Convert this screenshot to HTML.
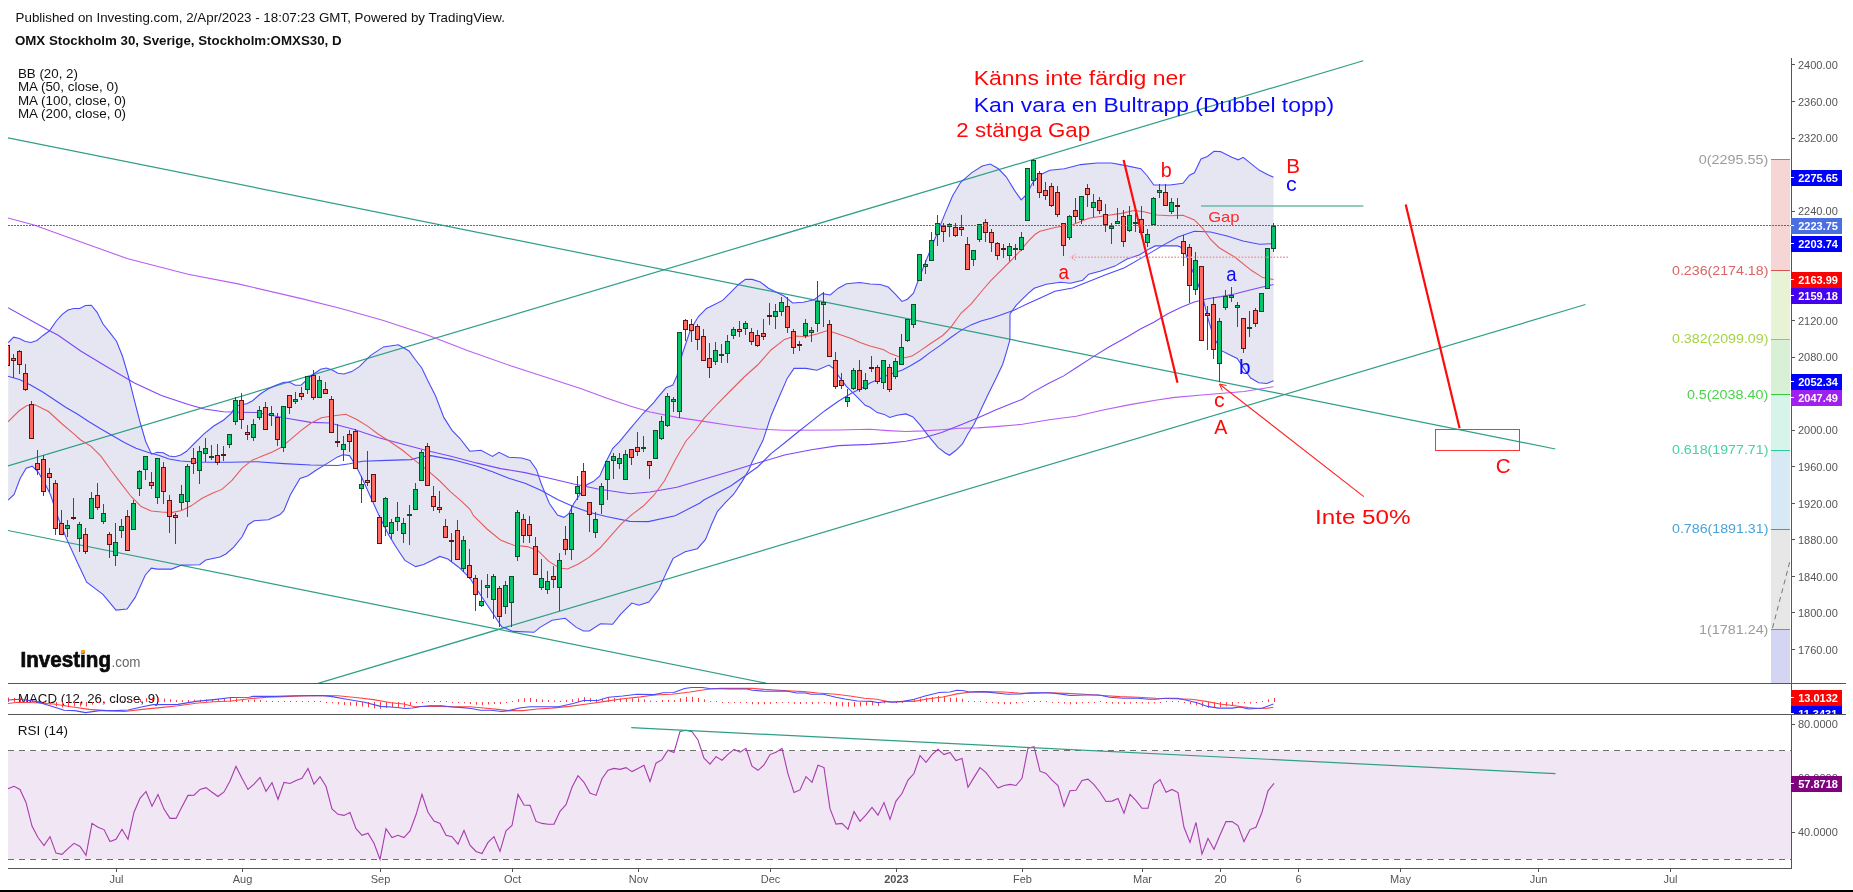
<!DOCTYPE html><html><head><meta charset="utf-8"><title>OMXS30</title>
<style>html,body{margin:0;padding:0;background:#fff;}body{width:1853px;height:892px;overflow:hidden;position:relative;font-family:"Liberation Sans",sans-serif;}svg{position:absolute;left:0;top:0;display:block}text{font-family:"Liberation Sans",sans-serif;}</style></head><body>
<div style="position:absolute;left:0;top:0;width:1853px;height:892px;will-change:transform;background:#fff">
<svg width="1853" height="892" viewBox="0 0 1853 892">
<rect x="0" y="0" width="1853" height="892" fill="#fff"/>
<defs><clipPath id="mp"><rect x="8" y="55" width="1783" height="628"/></clipPath><clipPath id="mc"><rect x="8" y="684" width="1783" height="30"/></clipPath></defs>
<rect x="8" y="751" width="1783" height="108" fill="#f1e6f4"/>
<g clip-path="url(#mp)">
<polygon points="8.2,342.5 13.6,337.2 19.4,338.6 25.3,341.5 31,342.5 37,340.5 42.7,335.7 49.5,330.8 56.3,321 62.2,314.3 68,310 73.8,308.5 79.7,308.5 85.5,305.5 91.3,305.2 97.1,312.3 103,324 110.7,333.7 116.6,341.5 122.4,356 128.2,375.5 134,398.8 140,422 145.7,441.5 151.5,454.2 157.4,452.2 163.2,452.8 169,456 174.9,456.7 180.7,455 186.5,451.3 194.3,443.5 204,433.8 213.7,426 223.4,420.2 231.2,413.4 235,406.6 241,404.6 246.8,403.7 252.6,400.7 260.3,394 268,389 276,385.2 283.7,382.3 289.5,382.3 295.3,385.2 301.2,385.2 307,379.4 312.8,374.5 320.6,369.3 326.4,368 332.2,370 338,373.2 343.9,374 351.7,371.6 359.4,366.7 370.7,355.4 383.5,346.9 398.4,344.7 409,351 415.6,360 421.8,368 427.5,380 435.6,396 443.8,417.4 452,430.4 460,438.5 469.8,451.2 481,450.2 492.5,456.4 499,452.3 508.8,457.2 521.8,458 530,460.4 536.4,469.4 541.3,484 549.4,503.5 557.5,515 564,517.3 569,513.3 573.8,503.5 580.3,493.8 586.8,484.8 593.3,481.6 599.8,475.9 606.3,461.3 612.8,448.3 619.3,441.8 630,428.8 643,413.5 653.7,402.7 658,397.2 666,387.8 672.9,385 677,375.7 682.3,354 690.4,330 698.4,316.5 706.5,308.4 714.6,304.4 722.6,300.4 730.7,292.3 738.8,284.2 745.5,279.4 752.2,279.4 760.3,282 768.4,288.2 776.4,292.3 784.5,296.3 792.6,303 803.4,302.2 814,299.8 822.2,293.6 830.2,295 838.3,288.2 846.4,283.7 860,282.5 870,284 880.2,284.5 888.2,287 895.3,294.1 901.9,301.4 907.4,299.2 913.5,293.1 916.5,285 923,268.4 933.8,241.5 944.6,214.6 952.6,195.7 960.7,182.3 971.5,172.9 982.2,166 990.3,164 998.4,168.8 1006.4,177 1014.5,190.4 1021.2,199.8 1026.6,194.4 1033,182 1041.4,174.2 1049.8,170.3 1064.4,168.7 1080.6,164.6 1096.9,163 1111.5,163 1124.5,165.4 1140.8,168.7 1147.3,176 1153.8,185 1170,185 1183,183.3 1189.5,175.2 1194.4,172.8 1201,159 1207.4,156.5 1214,151.3 1220.4,151.6 1231.8,157.3 1238.3,159.8 1243.2,157.3 1251.3,163.8 1259.4,170.3 1267.5,174.4 1273.5,177.3 1273.5,380.8 1266.8,383.5 1258.7,382.7 1250.7,378 1245.3,370.6 1237.2,358.5 1229,354.5 1221,350.4 1213,335.6 1207.6,316.8 1203.6,300.7 1198.2,284.5 1191.5,268.4 1186,255 1180.5,246.9 1177.4,245.9 1155.2,245.9 1149.2,248.9 1139.1,255 1127,259 1114.9,266.1 1100.8,271.1 1088.7,274.2 1082.6,280.2 1070.5,283.2 1060.4,282.2 1046.3,284.2 1034.2,288.3 1028.2,293.3 1022.1,299.4 1016.1,305.4 1010,313.9 1009.9,340 1006.3,352.6 1002.7,364.2 995.5,379.5 988.4,393.8 981.2,409 974,424.3 967.7,434.2 962.4,444 956,450.3 949.4,455.3 945.3,453 938.2,447.6 929.2,436.8 920.2,425.2 913,417 905.9,413.9 896.9,415.3 889.7,417.5 884.3,414.4 877.2,412.6 870,407.3 865.2,405.3 857.2,397.2 846.4,386.4 838.3,375.7 834.3,369 829,365 816.8,370.3 806,368.4 794,368.4 787.2,378.4 779,397.2 771,416 763,440.3 752.2,461.8 748.8,470 741.7,482.1 733.7,494.2 725.6,502.3 717.5,511.4 711.5,524.5 705.4,539.6 697.4,548.7 685.2,551.7 673.1,558.4 667.1,570.9 659,589 648.9,602.1 638.9,605.2 631.8,603.1 620.7,614.2 612.6,624.3 600.5,623.7 589.4,631 583.4,631 576.3,627.4 565.2,618.3 552.1,620.3 540,627.4 534,632.3 513,631.4 501.7,626.7 492.3,612.5 476,588.3 470,578 458.7,567.2 447.9,559 439.8,556.4 431.8,560.4 423.7,564.5 415.6,566.6 404.9,560.4 396.8,548.3 388.7,534.9 378.8,515 370.6,497 362.5,479 356,466 349.5,455.6 343,454.8 337.6,456.9 326.9,463.6 316,470.3 308,475.7 300,478.4 290.5,494.5 283.8,510.7 280,514.6 268.3,519.7 254.2,520.7 248.1,524.7 242.1,536.8 234,546.9 225.9,554 219.9,557 205.8,560 199.7,564.7 181.6,565.1 171.5,569.1 157.4,569.1 151.3,568.1 145.2,575.2 135.2,597.4 127.1,609.1 116,610.1 102.9,594.3 86.7,582.2 76.7,561 66.6,538.9 58.5,518.7 50.4,494.5 44.4,482.4 38.3,472.3 32.3,466.2 26.2,468.2 20.2,478.3 14.1,494.5 8.1,500.1" fill="#e6e6f3" stroke="none"/>
<g stroke="#2f9e86" stroke-width="1.2" fill="none">
<line x1="8" y1="137.8" x2="1555.3" y2="449"/>
<line x1="8" y1="466" x2="1363.2" y2="60.7"/>
<line x1="318" y1="683.4" x2="1585.4" y2="304.5"/>
<line x1="8" y1="530.5" x2="766" y2="683.2"/>
</g>
<line x1="1201" y1="206" x2="1363.3" y2="206" stroke="#6db8a5" stroke-width="1.6"/>
<polyline points="8,218 34,225 74.8,239.7 127,258.5 188,274.3 238,283.9 301.5,298.6 340.9,308.5 383.5,320.5 426,334.5 468.7,351 511.3,366 556,380.5 582,389 606.3,397.9 630,406 650,412 677,417.4 703.8,421.4 730.7,425.5 757.6,429 784.5,430.3 838.3,430 870,429.3 888,430.6 905.9,431.5 923.8,430.9 941.7,429.7 959.7,428.2 977.6,427.9 995.5,426.6 1022.4,424.3 1049.3,419.8 1076.2,416.2 1103.1,410 1130,404.6 1157,400 1174.9,397.4 1202,395 1244,391.5 1273.5,386.7" fill="none" stroke="#b85cf5" stroke-width="1.08"/>
<polyline points="8,307.7 50,331 57.8,335 80.7,351 107.6,367.3 134.5,382.9 161.4,395.5 188.3,404.4 204.5,409 223.3,411.7 240,412.2 257,412.5 283.8,417.8 310.7,422.4 330,423 354.4,429.6 378.8,437.7 403,444.2 427.5,450.7 452,456.4 476.3,462.9 500.7,468.6 525,472.6 549.4,478.3 573.8,484 598,489 630,493.8 650,492 677,487.3 703.8,479.3 730.7,471.2 757.6,463 784.5,455 811.4,449.7 838.3,445.6 870,444.4 888,443.1 905.9,441.3 923.8,437.7 941.7,432.4 959.7,425.2 977.6,418 995.5,410 1013.5,402.8 1022.4,399.2 1031.4,392.9 1049.3,383 1063.7,375.9 1076.2,367.8 1094.2,356.1 1108.5,347.2 1127,337 1140.4,329 1153.8,322.2 1167.3,314 1180.7,307.4 1194.2,302 1207.6,298.8 1221,296.6 1234.5,294 1248,290.4 1261.4,287.2 1273.5,284.5" fill="none" stroke="#7c46fa" stroke-width="1.08"/>
<polyline points="8,376.3 19.4,379.4 31,385.2 42.7,392 54.4,399.8 66,407.5 77.7,414.3 89.4,422 101,429 112.7,435.7 124.3,442.5 136,448.3 147.7,452.2 159.3,455.5 169,459 180.7,461 194.3,462 209.8,462.3 230,462.2 257,461.7 283.8,463.6 310.7,465 337.6,465.5 349.5,463.7 362.5,461.3 387,460.4 411,459.6 419.4,457.2 430.8,455.6 452,459.6 476.3,466 492.5,471.8 508.8,478.3 525,483.2 541.3,490.5 557.5,499.5 573.8,506.8 590,512.5 606.3,516.5 630,521.4 648.3,521.6 675.2,515.7 700,503 703.8,500 730.7,486 757.6,467 771,453.7 784.5,443 798,432 811.4,421.4 824.9,410.7 838.3,401.2 851.8,393 865.2,386.4 870,383 888,375 902.4,370 910.4,365.7 920.5,359.7 930.6,352.1 940.7,345.1 950.8,337.5 960.9,330.4 971,324.9 981,320.9 991.1,318.3 1000,315.3 1014.5,310 1028,303.4 1041.4,297.4 1054.9,291.2 1072.5,288 1105,275 1124.5,267.8 1145.6,255.6 1162,245.9 1178,237 1194.4,231.3 1210.6,232 1227,236 1243,241 1259.4,244.3 1273.5,243.6" fill="none" stroke="#4a4afc" stroke-width="1.08"/>
<polyline points="8.2,342.5 13.6,337.2 19.4,338.6 25.3,341.5 31,342.5 37,340.5 42.7,335.7 49.5,330.8 56.3,321 62.2,314.3 68,310 73.8,308.5 79.7,308.5 85.5,305.5 91.3,305.2 97.1,312.3 103,324 110.7,333.7 116.6,341.5 122.4,356 128.2,375.5 134,398.8 140,422 145.7,441.5 151.5,454.2 157.4,452.2 163.2,452.8 169,456 174.9,456.7 180.7,455 186.5,451.3 194.3,443.5 204,433.8 213.7,426 223.4,420.2 231.2,413.4 235,406.6 241,404.6 246.8,403.7 252.6,400.7 260.3,394 268,389 276,385.2 283.7,382.3 289.5,382.3 295.3,385.2 301.2,385.2 307,379.4 312.8,374.5 320.6,369.3 326.4,368 332.2,370 338,373.2 343.9,374 351.7,371.6 359.4,366.7 370.7,355.4 383.5,346.9 398.4,344.7 409,351 415.6,360 421.8,368 427.5,380 435.6,396 443.8,417.4 452,430.4 460,438.5 469.8,451.2 481,450.2 492.5,456.4 499,452.3 508.8,457.2 521.8,458 530,460.4 536.4,469.4 541.3,484 549.4,503.5 557.5,515 564,517.3 569,513.3 573.8,503.5 580.3,493.8 586.8,484.8 593.3,481.6 599.8,475.9 606.3,461.3 612.8,448.3 619.3,441.8 630,428.8 643,413.5 653.7,402.7 658,397.2 666,387.8 672.9,385 677,375.7 682.3,354 690.4,330 698.4,316.5 706.5,308.4 714.6,304.4 722.6,300.4 730.7,292.3 738.8,284.2 745.5,279.4 752.2,279.4 760.3,282 768.4,288.2 776.4,292.3 784.5,296.3 792.6,303 803.4,302.2 814,299.8 822.2,293.6 830.2,295 838.3,288.2 846.4,283.7 860,282.5 870,284 880.2,284.5 888.2,287 895.3,294.1 901.9,301.4 907.4,299.2 913.5,293.1 916.5,285 923,268.4 933.8,241.5 944.6,214.6 952.6,195.7 960.7,182.3 971.5,172.9 982.2,166 990.3,164 998.4,168.8 1006.4,177 1014.5,190.4 1021.2,199.8 1026.6,194.4 1033,182 1041.4,174.2 1049.8,170.3 1064.4,168.7 1080.6,164.6 1096.9,163 1111.5,163 1124.5,165.4 1140.8,168.7 1147.3,176 1153.8,185 1170,185 1183,183.3 1189.5,175.2 1194.4,172.8 1201,159 1207.4,156.5 1214,151.3 1220.4,151.6 1231.8,157.3 1238.3,159.8 1243.2,157.3 1251.3,163.8 1259.4,170.3 1267.5,174.4 1273.5,177.3" fill="none" stroke="#4a4afc" stroke-width="1.08"/>
<polyline points="8.1,500.1 14.1,494.5 20.2,478.3 26.2,468.2 32.3,466.2 38.3,472.3 44.4,482.4 50.4,494.5 58.5,518.7 66.6,538.9 76.7,561 86.7,582.2 102.9,594.3 116,610.1 127.1,609.1 135.2,597.4 145.2,575.2 151.3,568.1 157.4,569.1 171.5,569.1 181.6,565.1 199.7,564.7 205.8,560 219.9,557 225.9,554 234,546.9 242.1,536.8 248.1,524.7 254.2,520.7 268.3,519.7 280,514.6 283.8,510.7 290.5,494.5 300,478.4 308,475.7 316,470.3 326.9,463.6 337.6,456.9 343,454.8 349.5,455.6 356,466 362.5,479 370.6,497 378.8,515 388.7,534.9 396.8,548.3 404.9,560.4 415.6,566.6 423.7,564.5 431.8,560.4 439.8,556.4 447.9,559 458.7,567.2 470,578 476,588.3 492.3,612.5 501.7,626.7 513,631.4 534,632.3 540,627.4 552.1,620.3 565.2,618.3 576.3,627.4 583.4,631 589.4,631 600.5,623.7 612.6,624.3 620.7,614.2 631.8,603.1 638.9,605.2 648.9,602.1 659,589 667.1,570.9 673.1,558.4 685.2,551.7 697.4,548.7 705.4,539.6 711.5,524.5 717.5,511.4 725.6,502.3 733.7,494.2 741.7,482.1 748.8,470 752.2,461.8 763,440.3 771,416 779,397.2 787.2,378.4 794,368.4 806,368.4 816.8,370.3 829,365 834.3,369 838.3,375.7 846.4,386.4 857.2,397.2 865.2,405.3 870,407.3 877.2,412.6 884.3,414.4 889.7,417.5 896.9,415.3 905.9,413.9 913,417 920.2,425.2 929.2,436.8 938.2,447.6 945.3,453 949.4,455.3 956,450.3 962.4,444 967.7,434.2 974,424.3 981.2,409 988.4,393.8 995.5,379.5 1002.7,364.2 1006.3,352.6 1009.9,340 1010,313.9 1016.1,305.4 1022.1,299.4 1028.2,293.3 1034.2,288.3 1046.3,284.2 1060.4,282.2 1070.5,283.2 1082.6,280.2 1088.7,274.2 1100.8,271.1 1114.9,266.1 1127,259 1139.1,255 1149.2,248.9 1155.2,245.9 1177.4,245.9 1180.5,246.9 1186,255 1191.5,268.4 1198.2,284.5 1203.6,300.7 1207.6,316.8 1213,335.6 1221,350.4 1229,354.5 1237.2,358.5 1245.3,370.6 1250.7,378 1258.7,382.7 1266.8,383.5 1273.5,380.8" fill="none" stroke="#4a4afc" stroke-width="1.08"/>
<polyline points="8,421.8 19.4,410.5 27,405.5 35,404.8 48.5,411.5 62.2,424 73.8,433.8 80.7,440 90.8,446.1 100.9,456.1 111,470.3 121,483.4 131.1,496.5 141.2,506.6 151.3,511 161.4,512 171.5,512.6 181.6,510.6 191.6,505.6 201.7,498.5 211.8,493.5 221.9,489.4 232,480.3 242.1,468.2 252.2,460.2 262.3,456.1 272.3,452.1 280,448.1 289.2,440.7 300,431.3 310.7,423.2 321.5,417.8 332.2,416 345.7,414.3 356.4,419.2 367.2,425.9 378,434 388.7,440.7 402.2,450 415.6,460.9 429,471.6 439.8,481 450.6,491.8 461.4,501.2 470,509.3 473.5,515.7 487,529 500.4,540 513.8,545.3 527.3,546.6 538,550.7 548.8,561.4 559.5,568 567.6,569 578.4,564 589,557.4 600,548 610.7,535.9 621.4,523.8 632.2,514.3 643,506.3 653.7,495.5 664.5,480.7 675.2,460 686,441 694,432 703.8,418.7 717.3,404 730.7,390.5 744.2,377 757.6,365 771,350 784.5,339.4 795.3,336 806,336.7 816.8,334 827.6,330.5 838.3,334 851.8,338.8 860,342.5 870,346 883.2,349.6 890.3,353.6 898.3,356.5 905.4,357.7 912.5,355.7 920.5,350.6 930.6,343.5 942.7,335.5 950.8,327.4 960.9,313.3 971,304.2 982.7,290 990.8,280.7 1000.9,270.6 1011,260.5 1021,249.9 1029,240.4 1035.2,234.3 1040,231.3 1056,227.2 1072.5,224.8 1088.8,218.3 1105,215.8 1121.3,213.4 1134.3,210.5 1144,211.8 1157,215 1170,215.8 1183,215.3 1194.4,219.9 1202.5,228 1210.6,239.4 1218.8,247.5 1235,257.3 1251.3,270.3 1262.7,277.6 1273.5,279.5" fill="none" stroke="#e85a5a" stroke-width="1.08"/>
<g shape-rendering="crispEdges">
<path d="M7.5 345V366M13.5 354V378M19.5 350V374M25.5 364V391M31.5 401V439M37.5 450V475M43.5 455V496M49.5 468V492M55.5 480V535M61.5 510V535M67.5 520V537M73.5 498V520M79.5 522V552M85.5 528V554M91.5 492V519M97.5 483V510M103.5 504V524M109.5 532V558M115.5 523V566M121.5 519V538M127.5 510V551M133.5 500V530M139.5 470V496M145.5 456V480M151.5 472V489M157.5 458V504M163.5 462V504M169.5 495V533M175.5 513V544M181.5 485V510M187.5 464V517M193.5 448V474M199.5 446V484M205.5 438V462M211.5 445V460M217.5 444V465M223.5 446V461M229.5 434V448M235.5 397V425M241.5 393V429M247.5 425V440M253.5 419V441M259.5 406V420M265.5 402V430M271.5 406V426M277.5 413V446M283.5 406V452M289.5 395V414M295.5 392V404M301.5 387V400M307.5 376V394M313.5 370V400M319.5 376V398M325.5 382V394M331.5 396V433M337.5 424V447M343.5 436V461M349.5 430V452M355.5 429V469M361.5 476V503M367.5 451V486M373.5 474V502M379.5 515V544M385.5 497V536M391.5 519V539M397.5 502V531M403.5 518V543M409.5 505V545M415.5 483V510M421.5 450V481M427.5 443V486M433.5 486V511M439.5 491V513M445.5 519V538M451.5 533V562M457.5 520V560M463.5 536V572M469.5 549V579M475.5 575V611M481.5 580V607M487.5 574V598M493.5 574V619M499.5 586V627M505.5 581V614M511.5 576V627M517.5 510V561M523.5 514V543M529.5 516V543M535.5 537V575M541.5 559V590M547.5 571V594M553.5 566V588M559.5 553V611M565.5 526V555M571.5 506V560M577.5 476V500M583.5 463V496M589.5 502V532M595.5 512V538M601.5 483V514M607.5 461V500M613.5 453V479M619.5 453V469M625.5 450V480M631.5 449V465M637.5 432V456M643.5 436V452M649.5 461V479M655.5 430V459M661.5 416V440M667.5 393V427M673.5 397V412M679.5 332V418M685.5 319V341M691.5 319V342M697.5 324V350M703.5 329V361M709.5 343V378M715.5 342V365M721.5 344V363M727.5 335V363M733.5 327V339M739.5 321V337M745.5 321V335M751.5 328V345M757.5 330V347M763.5 319V340M769.5 303V325M775.5 304V329M781.5 297V316M787.5 297V333M793.5 329V354M799.5 341V351M805.5 319V338M811.5 327V342M817.5 281V332M823.5 292V327M829.5 320V357M835.5 352V389M841.5 373V389M847.5 389V407M853.5 368V390M859.5 360V392M865.5 373V390M871.5 356V372M877.5 365V384M883.5 360V389M889.5 364V392M895.5 358V379M901.5 334V365M907.5 319V342M913.5 304V328M919.5 254V281M925.5 260V274M931.5 232V261M937.5 215V246M943.5 223V242M949.5 223V237M955.5 223V237M961.5 215V236M967.5 237V270M973.5 250V266M979.5 224V242M985.5 219V242M991.5 229V252M997.5 242V260M1003.5 244V258M1009.5 243V261M1015.5 244V260M1021.5 232V251M1027.5 168V221M1033.5 159V186M1039.5 171V198M1045.5 182V200M1051.5 183V207M1057.5 186V217M1063.5 223V256M1069.5 215V240M1075.5 198V223M1081.5 196V224M1087.5 184V207M1093.5 194V217M1099.5 197V214M1105.5 204V232M1111.5 223V244M1117.5 208V224M1123.5 210V247M1129.5 206V232M1135.5 213V232M1141.5 206V233M1147.5 229V247M1153.5 197V225M1159.5 184V198M1165.5 184V206M1171.5 198V214M1177.5 198V219M1183.5 235V266M1189.5 244V303M1195.5 252V295M1201.5 266V341M1207.5 306V350M1213.5 297V359M1219.5 318V382M1225.5 290V310M1231.5 287V302M1237.5 302V327M1243.5 318V353M1249.5 311V337M1255.5 308V327M1261.5 293V312M1267.5 248V289M1273.5 223V252" stroke="#245c3e" stroke-width="1" fill="none"/>
<g fill="#ff6b63" stroke="#5e1212" stroke-width="1"><rect x="5.5" y="345.5" width="4" height="20"/><rect x="11.5" y="358.5" width="4" height="2"/><rect x="17.5" y="351.5" width="4" height="13"/><rect x="23.5" y="373.5" width="4" height="16"/><rect x="29.5" y="404.5" width="4" height="34"/><rect x="35.5" y="463.5" width="4" height="6"/><rect x="41.5" y="459.5" width="4" height="32"/><rect x="47.5" y="473.5" width="4" height="4"/><rect x="53.5" y="483.5" width="4" height="45"/><rect x="59.5" y="523.5" width="4" height="11"/><rect x="71.5" y="517.5" width="4" height="1"/><rect x="83.5" y="534.5" width="4" height="17"/><rect x="95.5" y="495.5" width="4" height="12"/><rect x="107.5" y="534.5" width="4" height="10"/><rect x="125.5" y="516.5" width="4" height="34"/><rect x="149.5" y="482.5" width="4" height="3"/><rect x="161.5" y="467.5" width="4" height="24"/><rect x="167.5" y="500.5" width="4" height="16"/><rect x="173.5" y="515.5" width="4" height="2"/><rect x="191.5" y="458.5" width="4" height="5"/><rect x="215.5" y="455.5" width="4" height="7"/><rect x="221.5" y="454.5" width="4" height="1"/><rect x="239.5" y="400.5" width="4" height="19"/><rect x="245.5" y="432.5" width="4" height="2"/><rect x="263.5" y="407.5" width="4" height="22"/><rect x="275.5" y="417.5" width="4" height="22"/><rect x="287.5" y="395.5" width="4" height="12"/><rect x="299.5" y="393.5" width="4" height="3"/><rect x="311.5" y="375.5" width="4" height="22"/><rect x="323.5" y="389.5" width="4" height="4"/><rect x="329.5" y="399.5" width="4" height="33"/><rect x="335.5" y="441.5" width="4" height="1"/><rect x="347.5" y="434.5" width="4" height="7"/><rect x="353.5" y="431.5" width="4" height="37"/><rect x="365.5" y="480.5" width="4" height="2"/><rect x="371.5" y="474.5" width="4" height="27"/><rect x="377.5" y="517.5" width="4" height="26"/><rect x="425.5" y="446.5" width="4" height="39"/><rect x="431.5" y="496.5" width="4" height="10"/><rect x="437.5" y="507.5" width="4" height="2"/><rect x="443.5" y="526.5" width="4" height="11"/><rect x="449.5" y="540.5" width="4" height="1"/><rect x="455.5" y="530.5" width="4" height="29"/><rect x="467.5" y="565.5" width="4" height="12"/><rect x="473.5" y="578.5" width="4" height="16"/><rect x="497.5" y="588.5" width="4" height="28"/><rect x="521.5" y="519.5" width="4" height="16"/><rect x="527.5" y="524.5" width="4" height="11"/><rect x="533.5" y="546.5" width="4" height="28"/><rect x="551.5" y="576.5" width="4" height="3"/><rect x="563.5" y="539.5" width="4" height="10"/><rect x="581.5" y="471.5" width="4" height="24"/><rect x="587.5" y="502.5" width="4" height="12"/><rect x="629.5" y="449.5" width="4" height="8"/><rect x="635.5" y="447.5" width="4" height="4"/><rect x="647.5" y="461.5" width="4" height="4"/><rect x="683.5" y="320.5" width="4" height="9"/><rect x="689.5" y="324.5" width="4" height="6"/><rect x="695.5" y="326.5" width="4" height="13"/><rect x="701.5" y="336.5" width="4" height="24"/><rect x="707.5" y="358.5" width="4" height="9"/><rect x="737.5" y="329.5" width="4" height="2"/><rect x="749.5" y="332.5" width="4" height="9"/><rect x="755.5" y="335.5" width="4" height="10"/><rect x="761.5" y="333.5" width="4" height="3"/><rect x="767.5" y="315.5" width="4" height="1"/><rect x="785.5" y="306.5" width="4" height="21"/><rect x="791.5" y="331.5" width="4" height="16"/><rect x="797.5" y="344.5" width="4" height="1"/><rect x="827.5" y="324.5" width="4" height="32"/><rect x="833.5" y="360.5" width="4" height="26"/><rect x="839.5" y="380.5" width="4" height="5"/><rect x="857.5" y="370.5" width="4" height="19"/><rect x="869.5" y="367.5" width="4" height="1"/><rect x="875.5" y="367.5" width="4" height="14"/><rect x="887.5" y="367.5" width="4" height="22"/><rect x="941.5" y="226.5" width="4" height="5"/><rect x="953.5" y="227.5" width="4" height="8"/><rect x="959.5" y="227.5" width="4" height="2"/><rect x="965.5" y="244.5" width="4" height="25"/><rect x="983.5" y="222.5" width="4" height="10"/><rect x="989.5" y="232.5" width="4" height="10"/><rect x="995.5" y="243.5" width="4" height="12"/><rect x="1001.5" y="248.5" width="4" height="1"/><rect x="1037.5" y="173.5" width="4" height="19"/><rect x="1043.5" y="190.5" width="4" height="5"/><rect x="1049.5" y="186.5" width="4" height="19"/><rect x="1055.5" y="192.5" width="4" height="22"/><rect x="1061.5" y="223.5" width="4" height="22"/><rect x="1073.5" y="210.5" width="4" height="6"/><rect x="1085.5" y="188.5" width="4" height="6"/><rect x="1097.5" y="200.5" width="4" height="10"/><rect x="1103.5" y="214.5" width="4" height="10"/><rect x="1121.5" y="216.5" width="4" height="25"/><rect x="1139.5" y="219.5" width="4" height="13"/><rect x="1163.5" y="192.5" width="4" height="13"/><rect x="1175.5" y="205.5" width="4" height="1"/><rect x="1181.5" y="241.5" width="4" height="12"/><rect x="1187.5" y="247.5" width="4" height="38"/><rect x="1199.5" y="266.5" width="4" height="74"/><rect x="1205.5" y="313.5" width="4" height="2"/><rect x="1211.5" y="304.5" width="4" height="45"/><rect x="1241.5" y="318.5" width="4" height="30"/><rect x="1253.5" y="310.5" width="4" height="13"/></g>
<g fill="#05c46c" stroke="#0a4f2a" stroke-width="1"><rect x="65.5" y="525.5" width="4" height="3"/><rect x="77.5" y="524.5" width="4" height="14"/><rect x="89.5" y="498.5" width="4" height="20"/><rect x="101.5" y="513.5" width="4" height="8"/><rect x="113.5" y="542.5" width="4" height="13"/><rect x="119.5" y="526.5" width="4" height="4"/><rect x="131.5" y="503.5" width="4" height="26"/><rect x="137.5" y="471.5" width="4" height="17"/><rect x="143.5" y="456.5" width="4" height="13"/><rect x="155.5" y="458.5" width="4" height="39"/><rect x="179.5" y="494.5" width="4" height="8"/><rect x="185.5" y="466.5" width="4" height="35"/><rect x="197.5" y="451.5" width="4" height="19"/><rect x="203.5" y="448.5" width="4" height="5"/><rect x="209.5" y="456.5" width="4" height="1"/><rect x="227.5" y="434.5" width="4" height="10"/><rect x="233.5" y="400.5" width="4" height="21"/><rect x="251.5" y="424.5" width="4" height="13"/><rect x="257.5" y="410.5" width="4" height="7"/><rect x="269.5" y="413.5" width="4" height="2"/><rect x="281.5" y="406.5" width="4" height="41"/><rect x="293.5" y="399.5" width="4" height="2"/><rect x="305.5" y="376.5" width="4" height="13"/><rect x="317.5" y="380.5" width="4" height="17"/><rect x="341.5" y="444.5" width="4" height="5"/><rect x="359.5" y="484.5" width="4" height="4"/><rect x="383.5" y="498.5" width="4" height="28"/><rect x="389.5" y="522.5" width="4" height="11"/><rect x="395.5" y="517.5" width="4" height="4"/><rect x="401.5" y="523.5" width="4" height="10"/><rect x="407.5" y="514.5" width="4" height="1"/><rect x="413.5" y="489.5" width="4" height="20"/><rect x="419.5" y="452.5" width="4" height="28"/><rect x="461.5" y="540.5" width="4" height="28"/><rect x="479.5" y="601.5" width="4" height="4"/><rect x="485.5" y="585.5" width="4" height="2"/><rect x="491.5" y="576.5" width="4" height="23"/><rect x="503.5" y="585.5" width="4" height="21"/><rect x="509.5" y="576.5" width="4" height="26"/><rect x="515.5" y="512.5" width="4" height="44"/><rect x="539.5" y="578.5" width="4" height="9"/><rect x="545.5" y="581.5" width="4" height="8"/><rect x="557.5" y="560.5" width="4" height="27"/><rect x="569.5" y="513.5" width="4" height="36"/><rect x="575.5" y="486.5" width="4" height="7"/><rect x="593.5" y="519.5" width="4" height="13"/><rect x="599.5" y="486.5" width="4" height="18"/><rect x="605.5" y="461.5" width="4" height="18"/><rect x="611.5" y="456.5" width="4" height="4"/><rect x="617.5" y="458.5" width="4" height="5"/><rect x="623.5" y="454.5" width="4" height="25"/><rect x="641.5" y="447.5" width="4" height="1"/><rect x="653.5" y="430.5" width="4" height="28"/><rect x="659.5" y="421.5" width="4" height="17"/><rect x="665.5" y="396.5" width="4" height="29"/><rect x="671.5" y="399.5" width="4" height="2"/><rect x="677.5" y="332.5" width="4" height="79"/><rect x="713.5" y="350.5" width="4" height="11"/><rect x="719.5" y="354.5" width="4" height="1"/><rect x="725.5" y="341.5" width="4" height="12"/><rect x="731.5" y="329.5" width="4" height="6"/><rect x="743.5" y="323.5" width="4" height="5"/><rect x="773.5" y="311.5" width="4" height="5"/><rect x="779.5" y="302.5" width="4" height="9"/><rect x="803.5" y="323.5" width="4" height="12"/><rect x="809.5" y="330.5" width="4" height="2"/><rect x="815.5" y="301.5" width="4" height="22"/><rect x="821.5" y="302.5" width="4" height="2"/><rect x="845.5" y="397.5" width="4" height="4"/><rect x="851.5" y="370.5" width="4" height="18"/><rect x="863.5" y="380.5" width="4" height="8"/><rect x="881.5" y="360.5" width="4" height="22"/><rect x="893.5" y="361.5" width="4" height="15"/><rect x="899.5" y="347.5" width="4" height="17"/><rect x="905.5" y="319.5" width="4" height="21"/><rect x="911.5" y="304.5" width="4" height="20"/><rect x="917.5" y="254.5" width="4" height="26"/><rect x="923.5" y="264.5" width="4" height="2"/><rect x="929.5" y="240.5" width="4" height="20"/><rect x="935.5" y="223.5" width="4" height="11"/><rect x="947.5" y="224.5" width="4" height="2"/><rect x="971.5" y="250.5" width="4" height="9"/><rect x="977.5" y="224.5" width="4" height="15"/><rect x="1007.5" y="246.5" width="4" height="9"/><rect x="1013.5" y="248.5" width="4" height="1"/><rect x="1019.5" y="237.5" width="4" height="12"/><rect x="1025.5" y="168.5" width="4" height="52"/><rect x="1031.5" y="160.5" width="4" height="20"/><rect x="1067.5" y="216.5" width="4" height="21"/><rect x="1079.5" y="196.5" width="4" height="23"/><rect x="1091.5" y="202.5" width="4" height="5"/><rect x="1109.5" y="226.5" width="4" height="2"/><rect x="1115.5" y="221.5" width="4" height="2"/><rect x="1127.5" y="215.5" width="4" height="15"/><rect x="1133.5" y="222.5" width="4" height="1"/><rect x="1145.5" y="234.5" width="4" height="8"/><rect x="1151.5" y="198.5" width="4" height="26"/><rect x="1157.5" y="190.5" width="4" height="2"/><rect x="1169.5" y="202.5" width="4" height="9"/><rect x="1193.5" y="260.5" width="4" height="29"/><rect x="1217.5" y="321.5" width="4" height="42"/><rect x="1223.5" y="296.5" width="4" height="11"/><rect x="1229.5" y="295.5" width="4" height="2"/><rect x="1235.5" y="305.5" width="4" height="2"/><rect x="1247.5" y="327.5" width="4" height="1"/><rect x="1259.5" y="293.5" width="4" height="18"/><rect x="1265.5" y="248.5" width="4" height="40"/><rect x="1271.5" y="226.5" width="4" height="22"/></g>
</g>
<line x1="1072" y1="257.3" x2="1289.5" y2="257.3" stroke="#f29a9a" stroke-width="1.6" stroke-dasharray="1.6,1.6"/>
<path d="M1075.5 254.3L1070.5 257.3L1075.5 260.3" stroke="#f08a8a" stroke-width="1" fill="none" stroke-dasharray="1.5,1"/>
<line x1="1123.6" y1="160" x2="1177.5" y2="382.8" stroke="#ff0a0a" stroke-width="2.2"/>
<line x1="1405.7" y1="204.5" x2="1459.6" y2="428.3" stroke="#ff0a0a" stroke-width="2.2"/>
<rect x="1435.5" y="429.5" width="84" height="21" fill="none" stroke="#f33" stroke-width="1"/>
<line x1="1363.8" y1="496.6" x2="1219.6" y2="384.2" stroke="#f22" stroke-width="1.1"/>
<path d="M1226.5 385.5L1219.4 384L1222.3 390.6" stroke="#f22" stroke-width="1" fill="none"/>
</g>
<text x="973.7" y="85" font-size="20.5" fill="#ff0808" font-weight="normal" text-anchor="start" textLength="212.3" lengthAdjust="spacingAndGlyphs">Känns inte färdig ner</text>
<text x="973.7" y="112" font-size="20.5" fill="#0808ff" font-weight="normal" text-anchor="start" textLength="360.4" lengthAdjust="spacingAndGlyphs">Kan vara en Bultrapp (Dubbel topp)</text>
<text x="956.3" y="137" font-size="20.5" fill="#ff0808" font-weight="normal" text-anchor="start" textLength="133.8" lengthAdjust="spacingAndGlyphs">2 stänga Gap</text>
<text x="1160.7" y="177.2" font-size="20.5" fill="#ff0808" font-weight="normal" text-anchor="start" textLength="11" lengthAdjust="spacingAndGlyphs">b</text>
<text x="1286.3" y="173" font-size="20.5" fill="#ff0808" font-weight="normal" text-anchor="start" textLength="13.8" lengthAdjust="spacingAndGlyphs">B</text>
<text x="1286" y="191" font-size="20.5" fill="#0808ff" font-weight="normal" text-anchor="start" textLength="10.7" lengthAdjust="spacingAndGlyphs">c</text>
<text x="1208.2" y="222.3" font-size="14.8" fill="#ff2a2a" font-weight="normal" text-anchor="start" textLength="31.4" lengthAdjust="spacingAndGlyphs">Gap</text>
<text x="1058.5" y="278.8" font-size="20.5" fill="#ff0808" font-weight="normal" text-anchor="start" textLength="10.4" lengthAdjust="spacingAndGlyphs">a</text>
<text x="1226.3" y="281" font-size="20.5" fill="#0808ff" font-weight="normal" text-anchor="start" textLength="10.3" lengthAdjust="spacingAndGlyphs">a</text>
<text x="1238.9" y="374" font-size="20.5" fill="#0808ff" font-weight="normal" text-anchor="start" textLength="11.6" lengthAdjust="spacingAndGlyphs">b</text>
<text x="1214.1" y="406.7" font-size="20.5" fill="#ff0808" font-weight="normal" text-anchor="start" textLength="10.6" lengthAdjust="spacingAndGlyphs">c</text>
<text x="1214.3" y="434" font-size="20.5" fill="#ff0808" font-weight="normal" text-anchor="start" textLength="13.1" lengthAdjust="spacingAndGlyphs">A</text>
<text x="1495.7" y="472.8" font-size="20.5" fill="#ff0808" font-weight="normal" text-anchor="start" textLength="14.9" lengthAdjust="spacingAndGlyphs">C</text>
<text x="1315" y="524" font-size="20.5" fill="#ff0808" font-weight="normal" text-anchor="start" textLength="95.6" lengthAdjust="spacingAndGlyphs">Inte 50%</text>
<text x="15.6" y="21.7" font-size="13" fill="#111" font-weight="normal" text-anchor="start" textLength="489.3" lengthAdjust="spacingAndGlyphs">Published on Investing.com, 2/Apr/2023 - 18:07:23 GMT, Powered by TradingView.</text>
<text x="14.9" y="44.6" font-size="13" fill="#111" font-weight="bold" text-anchor="start" textLength="326.7" lengthAdjust="spacingAndGlyphs">OMX Stockholm 30, Sverige, Stockholm:OMXS30, D</text>
<text x="17.9" y="77.7" font-size="13" fill="#111" font-weight="normal" text-anchor="start" textLength="60.1" lengthAdjust="spacingAndGlyphs">BB (20, 2)</text>
<text x="17.9" y="90.9" font-size="13" fill="#111" font-weight="normal" text-anchor="start" textLength="100.5" lengthAdjust="spacingAndGlyphs">MA (50, close, 0)</text>
<text x="17.9" y="104.6" font-size="13" fill="#111" font-weight="normal" text-anchor="start" textLength="108.2" lengthAdjust="spacingAndGlyphs">MA (100, close, 0)</text>
<text x="17.9" y="118.3" font-size="13" fill="#111" font-weight="normal" text-anchor="start" textLength="108.2" lengthAdjust="spacingAndGlyphs">MA (200, close, 0)</text>
<text x="17.9" y="703.3" font-size="13" fill="#111" font-weight="normal" text-anchor="start" textLength="141.6" lengthAdjust="spacingAndGlyphs">MACD (12, 26, close, 9)</text>
<text x="17.7" y="735" font-size="13" fill="#111" font-weight="normal" text-anchor="start" textLength="50.3" lengthAdjust="spacingAndGlyphs">RSI (14)</text>
<text x="1698.8" y="163.9" font-size="12.2" fill="#9c9c9c" font-weight="normal" text-anchor="start" textLength="69.6" lengthAdjust="spacingAndGlyphs">0(2295.55)</text>
<text x="1672" y="274.7" font-size="12.2" fill="#dc6464" font-weight="normal" text-anchor="start" textLength="96.4" lengthAdjust="spacingAndGlyphs">0.236(2174.18)</text>
<text x="1672" y="343.3" font-size="12.2" fill="#a6d447" font-weight="normal" text-anchor="start" textLength="96.4" lengthAdjust="spacingAndGlyphs">0.382(2099.09)</text>
<text x="1686.9" y="398.7" font-size="12.2" fill="#4bd24b" font-weight="normal" text-anchor="start" textLength="81.4" lengthAdjust="spacingAndGlyphs">0.5(2038.40)</text>
<text x="1672" y="454.2" font-size="12.2" fill="#45d3a4" font-weight="normal" text-anchor="start" textLength="96.4" lengthAdjust="spacingAndGlyphs">0.618(1977.71)</text>
<text x="1672" y="533.1" font-size="12.2" fill="#4aa3dc" font-weight="normal" text-anchor="start" textLength="96.4" lengthAdjust="spacingAndGlyphs">0.786(1891.31)</text>
<text x="1699.1" y="633.6" font-size="12.2" fill="#9c9c9c" font-weight="normal" text-anchor="start" textLength="69.3" lengthAdjust="spacingAndGlyphs">1(1781.24)</text>
<text x="20.5" y="666.6" font-size="21.5" font-weight="bold" fill="#0b0b0b" stroke="#0b0b0b" stroke-width="0.7" textLength="90.5" lengthAdjust="spacingAndGlyphs">Investing</text>
<text x="111.5" y="666.6" font-size="15" fill="#666" textLength="29" lengthAdjust="spacingAndGlyphs">.com</text>
<ellipse cx="83" cy="651.6" rx="2.4" ry="1.7" fill="#f7a21b" transform="rotate(-25 83 651.6)"/>
<rect x="1771" y="159.9" width="19" height="110.8" fill="#f6d5d5"/>
<rect x="1771" y="270.7" width="19" height="68.6" fill="#e8f3d6"/>
<rect x="1771" y="339.3" width="19" height="55.4" fill="#d8f0d6"/>
<rect x="1771" y="394.7" width="19" height="55.4" fill="#d7f4ea"/>
<rect x="1771" y="450.2" width="19" height="78.9" fill="#d7e9f5"/>
<rect x="1771" y="529.1" width="19" height="100.5" fill="#e7e7e7"/>
<rect x="1771" y="629.6" width="19" height="53.4" fill="#d4d4f3"/>
<line x1="1771" y1="159.5" x2="1790" y2="159.5" stroke="#8c8c8c" stroke-width="1"/>
<line x1="1771" y1="270.5" x2="1790" y2="270.5" stroke="#d9534f" stroke-width="1"/>
<line x1="1771" y1="339.5" x2="1790" y2="339.5" stroke="#9acd32" stroke-width="1"/>
<line x1="1771" y1="394.5" x2="1790" y2="394.5" stroke="#32cd32" stroke-width="1"/>
<line x1="1771" y1="450.5" x2="1790" y2="450.5" stroke="#2ecc9a" stroke-width="1"/>
<line x1="1771" y1="529.5" x2="1790" y2="529.5" stroke="#3a9ad9" stroke-width="1"/>
<line x1="1771" y1="629.5" x2="1790" y2="629.5" stroke="#8c8c8c" stroke-width="1"/>
<line x1="1772.5" y1="628" x2="1790" y2="561" stroke="#777" stroke-width="1" stroke-dasharray="5,4"/>
<line x1="8" y1="225.5" x2="1791" y2="225.5" stroke="#4067de" stroke-width="1" stroke-dasharray="2,1"/>
<g stroke="#555" stroke-width="1" shape-rendering="crispEdges">
<line x1="8" y1="683.5" x2="1846" y2="683.5"/>
<line x1="8" y1="714.5" x2="1846" y2="714.5"/>
<line x1="8" y1="868.5" x2="1792" y2="868.5"/>
<line x1="1791.5" y1="58" x2="1791.5" y2="869"/>
<line x1="1792" y1="649.5" x2="1795" y2="649.5"/>
<line x1="1792" y1="612.5" x2="1795" y2="612.5"/>
<line x1="1792" y1="576.5" x2="1795" y2="576.5"/>
<line x1="1792" y1="539.5" x2="1795" y2="539.5"/>
<line x1="1792" y1="503.5" x2="1795" y2="503.5"/>
<line x1="1792" y1="466.5" x2="1795" y2="466.5"/>
<line x1="1792" y1="430.5" x2="1795" y2="430.5"/>
<line x1="1792" y1="393.5" x2="1795" y2="393.5"/>
<line x1="1792" y1="357.5" x2="1795" y2="357.5"/>
<line x1="1792" y1="320.5" x2="1795" y2="320.5"/>
<line x1="1792" y1="284.5" x2="1795" y2="284.5"/>
<line x1="1792" y1="247.5" x2="1795" y2="247.5"/>
<line x1="1792" y1="211.5" x2="1795" y2="211.5"/>
<line x1="1792" y1="174.5" x2="1795" y2="174.5"/>
<line x1="1792" y1="138.5" x2="1795" y2="138.5"/>
<line x1="1792" y1="101.5" x2="1795" y2="101.5"/>
<line x1="1792" y1="64.5" x2="1795" y2="64.5"/>
<line x1="1792" y1="724.5" x2="1795" y2="724.5"/>
<line x1="1792" y1="778.5" x2="1795" y2="778.5"/>
<line x1="1792" y1="832.5" x2="1795" y2="832.5"/>
<line x1="116.5" y1="869" x2="116.5" y2="872"/>
<line x1="242.5" y1="869" x2="242.5" y2="872"/>
<line x1="380.5" y1="869" x2="380.5" y2="872"/>
<line x1="512.5" y1="869" x2="512.5" y2="872"/>
<line x1="638.5" y1="869" x2="638.5" y2="872"/>
<line x1="770.5" y1="869" x2="770.5" y2="872"/>
<line x1="896.5" y1="869" x2="896.5" y2="872"/>
<line x1="1022.5" y1="869" x2="1022.5" y2="872"/>
<line x1="1142.5" y1="869" x2="1142.5" y2="872"/>
<line x1="1220.5" y1="869" x2="1220.5" y2="872"/>
<line x1="1298.5" y1="869" x2="1298.5" y2="872"/>
<line x1="1400.5" y1="869" x2="1400.5" y2="872"/>
<line x1="1538.5" y1="869" x2="1538.5" y2="872"/>
<line x1="1670.5" y1="869" x2="1670.5" y2="872"/>
</g>
<text x="116.5" y="882.8" font-size="11" fill="#555" font-weight="normal" text-anchor="middle">Jul</text>
<text x="242.5" y="882.8" font-size="11" fill="#555" font-weight="normal" text-anchor="middle">Aug</text>
<text x="380.5" y="882.8" font-size="11" fill="#555" font-weight="normal" text-anchor="middle">Sep</text>
<text x="512.5" y="882.8" font-size="11" fill="#555" font-weight="normal" text-anchor="middle">Oct</text>
<text x="638.5" y="882.8" font-size="11" fill="#555" font-weight="normal" text-anchor="middle">Nov</text>
<text x="770.5" y="882.8" font-size="11" fill="#555" font-weight="normal" text-anchor="middle">Dec</text>
<text x="896.5" y="882.8" font-size="11" fill="#555" font-weight="bold" text-anchor="middle">2023</text>
<text x="1022.5" y="882.8" font-size="11" fill="#555" font-weight="normal" text-anchor="middle">Feb</text>
<text x="1142.5" y="882.8" font-size="11" fill="#555" font-weight="normal" text-anchor="middle">Mar</text>
<text x="1220.5" y="882.8" font-size="11" fill="#555" font-weight="normal" text-anchor="middle">20</text>
<text x="1298.5" y="882.8" font-size="11" fill="#555" font-weight="normal" text-anchor="middle">6</text>
<text x="1400.5" y="882.8" font-size="11" fill="#555" font-weight="normal" text-anchor="middle">May</text>
<text x="1538.5" y="882.8" font-size="11" fill="#555" font-weight="normal" text-anchor="middle">Jun</text>
<text x="1670.5" y="882.8" font-size="11" fill="#555" font-weight="normal" text-anchor="middle">Jul</text>
<text x="1798" y="653.6" font-size="11" fill="#555" font-weight="normal" text-anchor="start">1760.00</text>
<text x="1798" y="617.1" font-size="11" fill="#555" font-weight="normal" text-anchor="start">1800.00</text>
<text x="1798" y="580.5" font-size="11" fill="#555" font-weight="normal" text-anchor="start">1840.00</text>
<text x="1798" y="544" font-size="11" fill="#555" font-weight="normal" text-anchor="start">1880.00</text>
<text x="1798" y="507.5" font-size="11" fill="#555" font-weight="normal" text-anchor="start">1920.00</text>
<text x="1798" y="471" font-size="11" fill="#555" font-weight="normal" text-anchor="start">1960.00</text>
<text x="1798" y="434.4" font-size="11" fill="#555" font-weight="normal" text-anchor="start">2000.00</text>
<text x="1798" y="397.9" font-size="11" fill="#555" font-weight="normal" text-anchor="start">2040.00</text>
<text x="1798" y="361.4" font-size="11" fill="#555" font-weight="normal" text-anchor="start">2080.00</text>
<text x="1798" y="324.8" font-size="11" fill="#555" font-weight="normal" text-anchor="start">2120.00</text>
<text x="1798" y="288.3" font-size="11" fill="#555" font-weight="normal" text-anchor="start">2160.00</text>
<text x="1798" y="251.8" font-size="11" fill="#555" font-weight="normal" text-anchor="start">2200.00</text>
<text x="1798" y="215.2" font-size="11" fill="#555" font-weight="normal" text-anchor="start">2240.00</text>
<text x="1798" y="178.7" font-size="11" fill="#555" font-weight="normal" text-anchor="start">2280.00</text>
<text x="1798" y="142.2" font-size="11" fill="#555" font-weight="normal" text-anchor="start">2320.00</text>
<text x="1798" y="105.6" font-size="11" fill="#555" font-weight="normal" text-anchor="start">2360.00</text>
<text x="1798" y="69.1" font-size="11" fill="#555" font-weight="normal" text-anchor="start">2400.00</text>
<text x="1798" y="728.4" font-size="11" fill="#555" font-weight="normal" text-anchor="start">80.0000</text>
<text x="1798" y="782.4" font-size="11" fill="#555" font-weight="normal" text-anchor="start">60.0000</text>
<text x="1798" y="836.4" font-size="11" fill="#555" font-weight="normal" text-anchor="start">40.0000</text>
<g stroke="#6e6e6e" stroke-width="1" stroke-dasharray="6,5" shape-rendering="crispEdges"><line x1="8" y1="750.5" x2="1791" y2="750.5"/><line x1="8" y1="859.5" x2="1791" y2="859.5"/></g>
<polyline points="8,788.7 14,786.3 20,789.4 26,802.4 32,826.1 38,837.5 44,845.5 50,836.6 56,853.1 62,854.4 68,848.7 74,843.3 80,846.5 86,855.3 92,823.4 98,827.3 104,829.6 110,841.6 116,839.2 122,829.3 128,839.2 134,812.2 140,798.3 146,791.5 152,806.3 158,794.5 164,809.1 170,818.4 176,818.4 182,806.8 188,795.4 194,795.1 200,789.4 206,787.6 212,792.2 218,796.5 224,792 230,781 236,766.4 242,778.3 248,789.4 254,784.2 260,777.4 266,791.3 272,782.6 278,799.3 284,782.4 290,783.5 296,780.5 302,778.2 308,768.5 314,784.2 320,776.6 326,786.3 332,809 338,814.3 344,815.4 350,812.5 356,828.6 362,835.3 368,833.2 374,843.3 380,859.4 386,828.6 392,837.5 398,835.3 404,837.5 410,830.9 416,814.8 422,794.4 428,812.2 434,821.1 440,823.4 446,835.3 452,836.7 458,844.2 464,830.5 470,845.1 476,851.4 482,853.5 488,842.4 494,836.6 500,851.4 506,830.9 512,825.5 518,794.4 524,805 530,805.4 536,821.4 542,823.4 548,824.3 554,824.1 560,811.3 566,804.7 572,787.2 578,775.7 584,782.3 590,793.1 596,795.4 602,778.7 608,770.3 614,768.4 620,769.4 626,767.6 632,771.6 638,768.4 644,765.3 650,781.5 656,763.2 662,759.6 668,750.2 674,752.5 680,731.5 686,730.2 692,731.7 698,740 704,758.2 710,764.1 716,756.6 722,760.2 728,754.3 734,749.3 740,752.2 746,748.4 752,766.2 758,770.3 764,765 770,754.6 776,752.2 782,748.4 788,773.9 794,792.6 800,789.9 806,776.6 812,782.3 818,765.3 824,767.6 830,808.6 836,824.1 842,823.4 848,829.3 854,811.6 860,821.4 866,814.8 872,807.4 878,815.2 884,802.6 890,819.3 896,801.1 902,793.5 908,780.1 914,773.5 920,755.5 926,762.3 932,754.6 938,749.3 944,754.6 950,752.5 956,760.5 962,758.4 968,787.2 974,777.4 980,767.6 986,772.6 992,780.5 998,788.1 1004,785.5 1010,784.4 1016,785.5 1022,778.3 1028,748.1 1034,746.6 1040,771.2 1046,773.5 1052,780.1 1058,785.5 1064,806.3 1070,790.8 1076,790.3 1082,780.5 1088,779.2 1094,784.6 1100,792.2 1106,801.5 1112,801.1 1118,798.5 1124,813.1 1130,794.4 1136,800.6 1142,808.3 1148,808.3 1154,784.6 1160,779.6 1166,792.2 1172,789.4 1178,792.6 1184,827.3 1190,842.4 1196,822.5 1202,854 1208,838.5 1214,849.2 1220,835 1226,821.6 1232,821.6 1238,825.5 1244,841.6 1250,829.6 1256,827.3 1262,812.2 1268,790.8 1274,783.3" fill="none" stroke="#a83cae" stroke-width="1.1"/>
<line x1="631.3" y1="727.7" x2="1555.5" y2="773.6" stroke="#2f9e86" stroke-width="1.2"/>
<g clip-path="url(#mc)">
<g fill="#ff3b3b"><rect x="8" y="697.6" width="1" height="4.4"/><rect x="14" y="698" width="1" height="4"/><rect x="20" y="698.1" width="1" height="3.9"/><rect x="26" y="698.9" width="1" height="3.1"/><rect x="32" y="699.8" width="1" height="2.2"/><rect x="38" y="701" width="1" height="1"/><rect x="44" y="702" width="1" height="1"/><rect x="50" y="702" width="1" height="2.5"/><rect x="56" y="702" width="1" height="4.2"/><rect x="62" y="702" width="1" height="5.4"/><rect x="68" y="702" width="1" height="5.2"/><rect x="74" y="702" width="1" height="4.3"/><rect x="80" y="702" width="1" height="4.4"/><rect x="86" y="702" width="1" height="4.5"/><rect x="92" y="702" width="1" height="2.6"/><rect x="98" y="702" width="1" height="1"/><rect x="104" y="702" width="1" height="1"/><rect x="110" y="701" width="1" height="1"/><rect x="116" y="701" width="1" height="1"/><rect x="122" y="700.7" width="1" height="1.3"/><rect x="128" y="700.6" width="1" height="1.4"/><rect x="134" y="699.8" width="1" height="2.2"/><rect x="140" y="699" width="1" height="3"/><rect x="146" y="698.2" width="1" height="3.8"/><rect x="152" y="697.5" width="1" height="4.5"/><rect x="158" y="697.9" width="1" height="4.1"/><rect x="164" y="698.6" width="1" height="3.4"/><rect x="170" y="699.3" width="1" height="2.7"/><rect x="176" y="700" width="1" height="2"/><rect x="182" y="700.1" width="1" height="1.9"/><rect x="188" y="700" width="1" height="2"/><rect x="194" y="699.8" width="1" height="2.2"/><rect x="200" y="699.7" width="1" height="2.3"/><rect x="206" y="699.5" width="1" height="2.5"/><rect x="212" y="699.4" width="1" height="2.6"/><rect x="218" y="699" width="1" height="3"/><rect x="224" y="698.4" width="1" height="3.6"/><rect x="230" y="697.8" width="1" height="4.2"/><rect x="236" y="698.3" width="1" height="3.7"/><rect x="242" y="699.2" width="1" height="2.8"/><rect x="248" y="700.1" width="1" height="1.9"/><rect x="254" y="699.6" width="1" height="2.4"/><rect x="260" y="700.2" width="1" height="1.8"/><rect x="266" y="700.8" width="1" height="1.2"/><rect x="272" y="701" width="1" height="1"/><rect x="278" y="701" width="1" height="1"/><rect x="284" y="701" width="1" height="1"/><rect x="290" y="701" width="1" height="1"/><rect x="296" y="701" width="1" height="1"/><rect x="302" y="701" width="1" height="1"/><rect x="308" y="701" width="1" height="1"/><rect x="314" y="701" width="1" height="1"/><rect x="320" y="701" width="1" height="1"/><rect x="326" y="702" width="1" height="1"/><rect x="332" y="702" width="1" height="1.2"/><rect x="338" y="702" width="1" height="2.4"/><rect x="344" y="702" width="1" height="3"/><rect x="350" y="702" width="1" height="3.6"/><rect x="356" y="702" width="1" height="4.1"/><rect x="362" y="702" width="1" height="4.5"/><rect x="368" y="702" width="1" height="5.3"/><rect x="374" y="702" width="1" height="6.3"/><rect x="380" y="702" width="1" height="6.8"/><rect x="386" y="702" width="1" height="6"/><rect x="392" y="702" width="1" height="5.2"/><rect x="398" y="702" width="1" height="5.2"/><rect x="404" y="702" width="1" height="5.3"/><rect x="410" y="702" width="1" height="3.2"/><rect x="416" y="702" width="1" height="1"/><rect x="422" y="702" width="1" height="1"/><rect x="428" y="701" width="1" height="1"/><rect x="434" y="701" width="1" height="1"/><rect x="440" y="701" width="1" height="1"/><rect x="446" y="701" width="1" height="1"/><rect x="452" y="702" width="1" height="1"/><rect x="458" y="702" width="1" height="1"/><rect x="464" y="702" width="1" height="1.3"/><rect x="470" y="702" width="1" height="2"/><rect x="476" y="702" width="1" height="2.7"/><rect x="482" y="702" width="1" height="3.1"/><rect x="488" y="702" width="1" height="2.4"/><rect x="494" y="702" width="1" height="2"/><rect x="500" y="702" width="1" height="2.1"/><rect x="506" y="702" width="1" height="1"/><rect x="512" y="701" width="1" height="1"/><rect x="518" y="699.2" width="1" height="2.8"/><rect x="524" y="698.2" width="1" height="3.8"/><rect x="530" y="698.1" width="1" height="3.9"/><rect x="536" y="698.9" width="1" height="3.1"/><rect x="542" y="699.5" width="1" height="2.5"/><rect x="548" y="700" width="1" height="2"/><rect x="554" y="700.5" width="1" height="1.5"/><rect x="560" y="700.9" width="1" height="1.1"/><rect x="566" y="699.9" width="1" height="2.1"/><rect x="572" y="699.1" width="1" height="2.9"/><rect x="578" y="698.1" width="1" height="3.9"/><rect x="584" y="697.1" width="1" height="4.9"/><rect x="590" y="698.2" width="1" height="3.8"/><rect x="596" y="699.2" width="1" height="2.8"/><rect x="602" y="698.8" width="1" height="3.2"/><rect x="608" y="697.6" width="1" height="4.4"/><rect x="614" y="698" width="1" height="4"/><rect x="620" y="698.4" width="1" height="3.6"/><rect x="626" y="698.5" width="1" height="3.5"/><rect x="632" y="698.3" width="1" height="3.7"/><rect x="638" y="698.3" width="1" height="3.7"/><rect x="644" y="699.4" width="1" height="2.6"/><rect x="650" y="700.6" width="1" height="1.4"/><rect x="656" y="701" width="1" height="1"/><rect x="662" y="700" width="1" height="2"/><rect x="668" y="699.9" width="1" height="2.1"/><rect x="674" y="700.1" width="1" height="1.9"/><rect x="680" y="698.2" width="1" height="3.8"/><rect x="686" y="696.8" width="1" height="5.2"/><rect x="692" y="696.8" width="1" height="5.2"/><rect x="698" y="697.9" width="1" height="4.1"/><rect x="704" y="699.3" width="1" height="2.7"/><rect x="710" y="701" width="1" height="1"/><rect x="716" y="701" width="1" height="1"/><rect x="722" y="702" width="1" height="1"/><rect x="728" y="702" width="1" height="1"/><rect x="734" y="702" width="1" height="1"/><rect x="740" y="702" width="1" height="1"/><rect x="746" y="702" width="1" height="1"/><rect x="752" y="702" width="1" height="2.2"/><rect x="758" y="702" width="1" height="2.3"/><rect x="764" y="702" width="1" height="2.3"/><rect x="770" y="702" width="1" height="1.8"/><rect x="776" y="702" width="1" height="1.3"/><rect x="782" y="702" width="1" height="1"/><rect x="788" y="702" width="1" height="1"/><rect x="794" y="702" width="1" height="1.8"/><rect x="800" y="702" width="1" height="2"/><rect x="806" y="702" width="1" height="1.6"/><rect x="812" y="702" width="1" height="2.2"/><rect x="818" y="702" width="1" height="1.5"/><rect x="824" y="702" width="1" height="1.2"/><rect x="830" y="702" width="1" height="2.5"/><rect x="836" y="702" width="1" height="3.9"/><rect x="842" y="702" width="1" height="4.4"/><rect x="848" y="702" width="1" height="4.7"/><rect x="854" y="702" width="1" height="4.8"/><rect x="860" y="702" width="1" height="4.3"/><rect x="866" y="702" width="1" height="3.5"/><rect x="872" y="702" width="1" height="3.3"/><rect x="878" y="702" width="1" height="4"/><rect x="884" y="702" width="1" height="1.2"/><rect x="890" y="701" width="1" height="1"/><rect x="896" y="702" width="1" height="1"/><rect x="902" y="702" width="1" height="1"/><rect x="908" y="700.9" width="1" height="1.1"/><rect x="914" y="699.3" width="1" height="2.7"/><rect x="920" y="698.5" width="1" height="3.5"/><rect x="926" y="697.7" width="1" height="4.3"/><rect x="932" y="697" width="1" height="5"/><rect x="938" y="696" width="1" height="6"/><rect x="944" y="696.4" width="1" height="5.6"/><rect x="950" y="697.7" width="1" height="4.3"/><rect x="956" y="697.5" width="1" height="4.5"/><rect x="962" y="698.7" width="1" height="3.3"/><rect x="968" y="701" width="1" height="1"/><rect x="974" y="701" width="1" height="1"/><rect x="980" y="701" width="1" height="1"/><rect x="986" y="702" width="1" height="1"/><rect x="992" y="702" width="1" height="1.1"/><rect x="998" y="702" width="1" height="1.7"/><rect x="1004" y="702" width="1" height="2.3"/><rect x="1010" y="702" width="1" height="2.2"/><rect x="1016" y="702" width="1" height="1.5"/><rect x="1022" y="702" width="1" height="1"/><rect x="1028" y="701" width="1" height="1"/><rect x="1034" y="701" width="1" height="1"/><rect x="1040" y="701" width="1" height="1"/><rect x="1046" y="701" width="1" height="1"/><rect x="1052" y="702" width="1" height="1"/><rect x="1058" y="702" width="1" height="1"/><rect x="1064" y="702" width="1" height="1.6"/><rect x="1070" y="702" width="1" height="2.4"/><rect x="1076" y="702" width="1" height="1.9"/><rect x="1082" y="702" width="1" height="1.3"/><rect x="1088" y="702" width="1" height="1"/><rect x="1094" y="702" width="1" height="1"/><rect x="1100" y="701" width="1" height="1"/><rect x="1106" y="702" width="1" height="1"/><rect x="1112" y="702" width="1" height="1.7"/><rect x="1118" y="702" width="1" height="1.8"/><rect x="1124" y="702" width="1" height="1.9"/><rect x="1130" y="702" width="1" height="1.6"/><rect x="1136" y="702" width="1" height="1.3"/><rect x="1142" y="702" width="1" height="1.4"/><rect x="1148" y="702" width="1" height="1.6"/><rect x="1154" y="702" width="1" height="1.3"/><rect x="1160" y="702" width="1" height="1"/><rect x="1166" y="701" width="1" height="1"/><rect x="1172" y="701" width="1" height="1"/><rect x="1178" y="701" width="1" height="1"/><rect x="1184" y="702" width="1" height="1"/><rect x="1190" y="702" width="1" height="2.3"/><rect x="1196" y="702" width="1" height="3.3"/><rect x="1202" y="702" width="1" height="4.5"/><rect x="1208" y="702" width="1" height="5.8"/><rect x="1214" y="702" width="1" height="5.7"/><rect x="1220" y="702" width="1" height="5.1"/><rect x="1226" y="702" width="1" height="4.2"/><rect x="1232" y="702" width="1" height="3.2"/><rect x="1238" y="702" width="1" height="1.2"/><rect x="1244" y="702" width="1" height="1.2"/><rect x="1250" y="702" width="1" height="1.5"/><rect x="1256" y="702" width="1" height="1"/><rect x="1262" y="701" width="1" height="1"/><rect x="1268" y="699.4" width="1" height="2.6"/><rect x="1274" y="698" width="1" height="4"/></g>
<polyline points="8,703.5 17.8,702.3 35.6,702.8 53.4,704 71.2,706.7 89,709.4 106.9,710.6 124.7,711.5 142.5,709.4 160.3,707.6 178,705.8 196,703.2 213.7,701.7 231.5,701 249.3,698.7 267.1,697.3 285,696.6 302.8,696 320.6,695.5 337.8,695.7 355.6,697.5 373.4,699.6 391.2,702.8 403.7,704 414.4,706.7 426.9,706.2 441,706.4 455.4,706.7 469.6,706.7 483.8,708 498,709.4 508.8,710.6 523,710.6 537.3,709 551.5,708.1 569.3,706.4 587.1,704 605,701.4 622.8,698.7 640.6,696.9 654.2,695 672,694.2 689.9,692 707.7,689.3 720,688.4 738,688.4 752.2,688.4 764.7,689.4 787.8,690.7 803.8,691.6 818,693 835.9,694.2 850,696 864.4,698.3 876.9,699.2 889.3,702 903.6,701.4 914.3,701.4 928.5,698.7 942.8,697 957,693.9 970.7,692 985,691.6 1004.5,692 1018.8,693 1031.2,693.4 1049,692.8 1066.9,693.4 1084.7,694.2 1102.5,695.5 1120.3,696.6 1138,697.3 1155.9,698.3 1173.7,698.7 1191.5,699.2 1205.8,701.4 1220,704 1234.3,705.8 1248.5,707.6 1259.2,708.5 1268,708.1 1273.4,707.2" fill="none" stroke="#ff4545" stroke-width="1.1"/>
<polyline points="8,700 19.6,699.2 35.6,701.4 50,705.8 64,710.3 74.8,710.6 85.5,712.6 99.7,710.6 115.8,710.6 128.2,710 142.5,706.7 153.2,704.6 178,704.4 196,701.4 213.7,699.6 231.5,697.5 249.3,697.3 253,696.4 276,696.4 293.9,695.7 320.6,695.5 330.7,696.4 346.7,699.2 364.5,702.3 380.6,706.4 394.8,707.2 405.5,708.5 412.6,708 419.7,706.7 430.4,705.8 441,705.8 451.8,707 462.5,707.6 471.4,708.5 480.3,710.3 491,710.3 501.7,711.5 508.8,710.6 519.5,708 530,706.7 544.4,706.7 558.6,706.7 573,703.5 583.6,700.5 597.8,700.5 608.5,697.3 622.8,696 637,694.2 654.2,694.6 663.2,692.8 673.8,692.5 684.5,688.5 691.6,687.5 702.3,687.5 709.5,688.5 729,689 746.9,689 752.2,690.2 764.7,691.2 786,691 796.7,693 805.6,693 811,694.2 823.4,694.2 835.9,697.3 844.8,699 857.3,701 871.5,701.4 878.6,702.8 885.8,701.4 892.9,702.3 903.6,701.4 914.3,699.2 925,696 939.2,692.5 949.9,692 957,690.3 964,690.7 969,692 983,691.6 995.6,693 1008,694.2 1020.5,693.9 1031.2,692.8 1049,692.8 1059.7,693.9 1070.4,695.5 1084.7,695 1099,695 1109.6,697.3 1123.8,698.3 1138,698.3 1148.8,699.2 1155.9,699.2 1164.8,698.3 1177.3,698.3 1188,700.5 1198.6,703.2 1207.5,706.4 1218.2,708.1 1232.5,708.1 1239.6,707 1248.5,709 1262.8,708 1273.4,704" fill="none" stroke="#4a4aff" stroke-width="1.1"/>
</g>
<defs><clipPath id="tc"><rect x="1792" y="690" width="60" height="24"/></clipPath></defs>
<rect x="1791" y="170" width="51" height="16" fill="#0000ff"/>
<rect x="1791" y="177" width="3" height="1" fill="#fff"/>
<text x="1798.2" y="181.6" font-size="11" fill="#fff" font-weight="bold" text-anchor="start">2275.65</text>
<rect x="1791" y="218" width="51" height="16" fill="#4a6fe3"/>
<rect x="1791" y="225" width="3" height="1" fill="#fff"/>
<text x="1798.2" y="229.6" font-size="11" fill="#fff" font-weight="bold" text-anchor="start">2223.75</text>
<rect x="1791" y="236" width="51" height="16" fill="#0000ff"/>
<rect x="1791" y="243" width="3" height="1" fill="#fff"/>
<text x="1798.2" y="247.6" font-size="11" fill="#fff" font-weight="bold" text-anchor="start">2203.74</text>
<rect x="1791" y="272" width="51" height="16" fill="#ff0000"/>
<rect x="1791" y="279" width="3" height="1" fill="#fff"/>
<text x="1798.2" y="283.6" font-size="11" fill="#fff" font-weight="bold" text-anchor="start">2163.99</text>
<rect x="1791" y="288" width="51" height="16" fill="#4400f0"/>
<rect x="1791" y="295" width="3" height="1" fill="#fff"/>
<text x="1798.2" y="299.6" font-size="11" fill="#fff" font-weight="bold" text-anchor="start">2159.18</text>
<rect x="1791" y="374" width="51" height="16" fill="#0000ff"/>
<rect x="1791" y="381" width="3" height="1" fill="#fff"/>
<text x="1798.2" y="385.6" font-size="11" fill="#fff" font-weight="bold" text-anchor="start">2052.34</text>
<rect x="1791" y="390" width="51" height="16" fill="#a020f0"/>
<rect x="1791" y="397" width="3" height="1" fill="#fff"/>
<text x="1798.2" y="401.6" font-size="11" fill="#fff" font-weight="bold" text-anchor="start">2047.49</text>
<rect x="1791" y="690" width="51" height="16" fill="#ff0000"/>
<rect x="1791" y="697" width="3" height="1" fill="#fff"/>
<text x="1798.2" y="701.6" font-size="11" fill="#fff" font-weight="bold" text-anchor="start">13.0132</text>
<rect x="1791" y="706" width="51" height="8" fill="#0000ff"/>
<rect x="1791" y="713" width="3" height="1" fill="#fff"/>
<g clip-path="url(#tc)">
<text x="1798.2" y="717.6" font-size="11" fill="#fff" font-weight="bold" text-anchor="start">11.3431</text>
</g>
<rect x="1791" y="776" width="51" height="16" fill="#800080"/>
<rect x="1791" y="783" width="3" height="1" fill="#fff"/>
<text x="1798.2" y="787.6" font-size="11" fill="#fff" font-weight="bold" text-anchor="start">57.8718</text>
<rect x="0" y="890" width="1853" height="2" fill="#000"/>
</svg></div></body></html>
